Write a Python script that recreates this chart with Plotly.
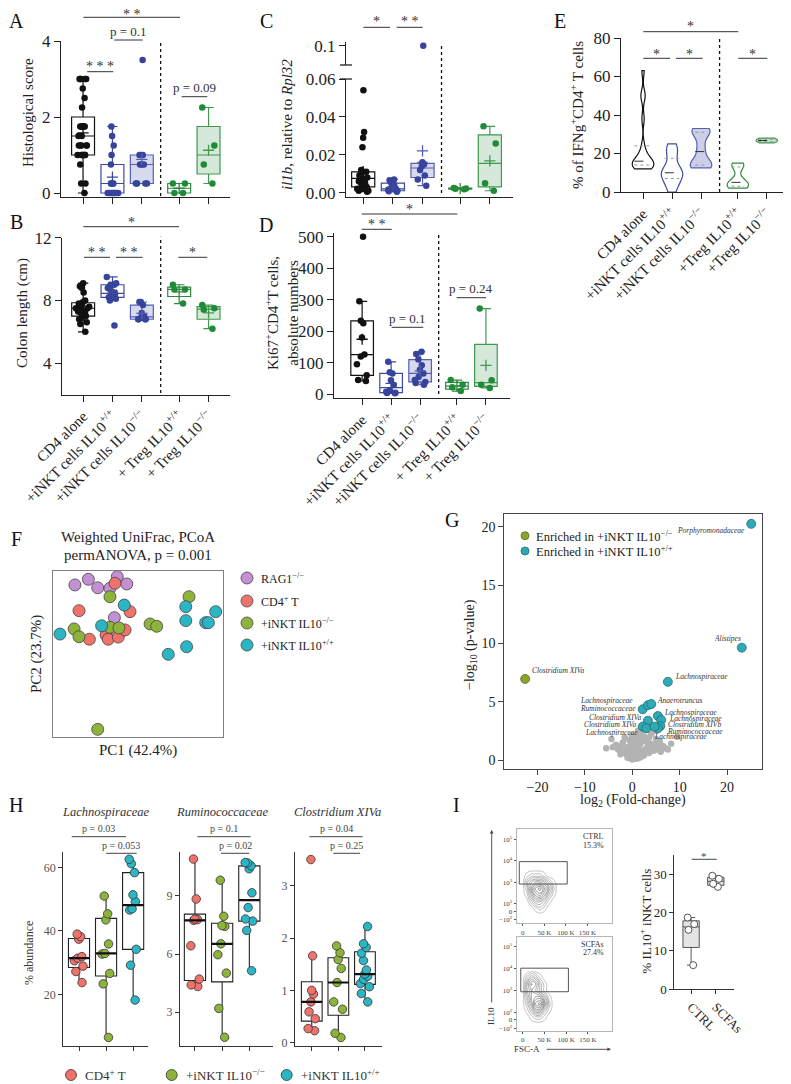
import numpy as np
import plotly.graph_objects as go

# the page body adds an 8 px margin, so the figure is sized to the visible area and
# all layout positions below are expressed in page pixels
OFF = 8
WF, HF = 783, 1076
SERIF = "Liberation Serif"


def fx(p):
    return (p - OFF) / WF


def fy(p):
    return 1 - (p - OFF) / HF


# ---------------------------------------------------------------- data
groups_B = ["CD4 alone", "+iNKT cells IL10<sup>+/+</sup>", "+iNKT cells IL10<sup>−/−</sup>",
            "+ Treg IL10<sup>+/+</sup>", "+ Treg IL10<sup>−/−</sup>"]
groups_E = ["CD4 alone", "+iNKT cells IL10<sup>+/+</sup>", "+iNKT cells IL10<sup>−/−</sup>",
            "+Treg IL10<sup>+/+</sup>", "+Treg IL10<sup>−/−</sup>"]
group_pos = [0, 1, 2, 3.27, 4.27]
divider_pos = 2.64

# A  histological score
hist_cd4 = [3, 3, 3, 3, 3, 2.75, 2.5, 2.25, 1.75, 1.75, 1.75, 1.75, 1.75, 1.75, 1.75, 1.5, 1.5,
            1.25, 1.25, 1.25, 1.25, 1.25, 1, 1, 1, 1, 1, 1, 1, 0.75, 0.25, 0.25, 0]
hist_inkt_wt = [1.75, 1.5, 1.25, 1.0, 0.75, 0.25, 0.25, 0.25, 0.25, 0.25, 0, 0, 0, 0, 0, 0, 0, 0]
hist_inkt_ko = [3.5, 1, 1, 1, 0.75, 0.75, 0.75, 0.25, 0.25, 0.25, 0.25]
hist_treg_wt = [0.25, 0.25, 0, 0]
hist_treg_ko = [2.25, 1.25, 0.75, 0.25]

# B  colon length (cm)
colon_cd4 = [9.1, 8.9, 8.8, 8.5, 8.0, 7.9, 7.8, 7.8, 7.7, 7.6, 7.6, 7.5, 7.5, 7.4, 7.3, 7.3, 7.2,
             7.1, 7.0, 7.0, 6.9, 6.8, 6.6, 6.5, 6.0]
colon_inkt_wt = [9.5, 9.1, 9.0, 9.0, 8.8, 8.7, 8.5, 8.4, 8.4, 8.3, 8.2, 8.1, 8.0, 6.4]
colon_inkt_ko = [7.9, 7.9, 7.7, 7.2, 7.0, 6.9, 6.8, 6.8, 6.8, 6.8]
colon_treg_wt = [9.0, 8.7, 8.7, 7.8]
colon_treg_ko = [7.7, 7.5, 7.4, 6.2]

# C  il1b relative to Rpl32
il1b_cd4 = [0.054, 0.032, 0.029, 0.024, 0.012, 0.011, 0.011, 0.010, 0.009, 0.008, 0.008, 0.007,
            0.006, 0.005, 0.005, 0.004, 0.003, 0.002, 0.002, 0.001, 0.001, 0.0005]
il1b_inkt_wt = [0.007, 0.0065, 0.005, 0.004, 0.003, 0.002, 0.002, 0.0015, 0.001, 0.0008, 0.0005]
il1b_inkt_ko = [0.1, 0.016, 0.015, 0.014, 0.012, 0.009, 0.007, 0.0037]
il1b_treg_wt = [0.0025, 0.002, 0.0018, 0.0022]
il1b_treg_ko = [0.035, 0.026, 0.005, 0.001]

# D  Ki67+ CD4+ T cells
ki67_cd4 = [500, 295, 233, 225, 180, 126, 120, 95, 60, 45, 42]
ki67_inkt_wt = [103, 70, 66, 44, 29, 13, 8, 5, 4, 3]
ki67_inkt_ko = [135, 128, 110, 92, 78, 66, 55, 45, 39, 36, 30]
ki67_treg_wt = [45, 30, 22, 10]
ki67_treg_ko = [272, 44, 30, 20]

# E  % IFNg+ CD4+ T cells
ifng_cd4 = [12, 12.5, 13, 13.5, 14, 14, 15, 15, 16, 17, 18, 20, 24, 38, 49, 51, 63]
ifng_inkt_wt = [0, 2, 5, 6, 8, 9, 10, 10, 11, 12, 15, 20, 21, 23, 25]
ifng_inkt_ko = [12.5, 13, 13.5, 14, 15, 17, 21, 24, 29, 31, 32, 32.5, 33]
ifng_treg_wt = [2, 2.5, 3, 4, 5, 6, 13, 14, 15]
ifng_treg_ko = [25.5, 26, 26.5, 27, 27.5, 28]

# F  PCoA (axes in relative units)
pcoa_groups = ["RAG1<sup>−/−</sup>", "CD4<sup>+</sup> T", "+iNKT IL10<sup>−/−</sup>", "+iNKT IL10<sup>+/+</sup>"]
pc1_rag = [12.9, 20.8, 26.3, 33.5, 37.8, 43.4, 36.1]
pc2_rag = [91.6, 95.0, 89.9, 89.6, 96.6, 92.2, 71.9]
pc1_cd4 = [36.5, 15.3, 45.3, 21.4, 31.9, 31.2, 32.5, 38.4, 42.4]
pc2_cd4 = [92.6, 76.1, 75.5, 58.9, 64.5, 61.4, 58.9, 60.2, 64.5]
pc1_ko = [33.5, 12.4, 15.3, 33.5, 38.8, 57.1, 61.0, 80.0, 26.3]
pc2_ko = [84.5, 65.1, 60.4, 66.1, 65.7, 68.1, 66.7, 84.5, 4.6]
pc1_wt = [4.1, 28.6, 41.9, 78.1, 78.1, 89.8, 91.4, 95.7, 67.8, 78.6]
pc2_wt = [62.0, 67.0, 79.5, 78.5, 70.1, 68.9, 68.9, 75.5, 49.8, 54.4]

# G  volcano
volc_grey_x = [0, 0.3, -0.3, 0.6, -0.6, 0.9, -0.9, 1.2, 1.5, -1.2, 1.8, 2.1, -1.5, 2.4, 2.7, 3.0, -1.8,
               -2.1, 3.3, 3.6, 0.2, 0.5, 0.8, 1.1, 1.4, 1.7, 2.0, 2.3, -0.2, -0.5, -0.8, -1.1, 0.4,
               0.7, 1.0, 1.3, 1.6, 1.9, 0.1, -0.3, 0.3, 0.6, 2.6, 2.9, 3.2, 3.5, 3.9, 4.2, 4.5, 4.8,
               5.2, 5.6, 6.0, 6.5, 7.0, 7.5, 8.2, 9.5, 4.0, 4.6, 3.0, 2.2, -2.5, -3.0, -3.5, -4.1,
               -4.4, -5.5, -1.6, -2.0, -0.6, -1.0, 1.0, 2.0, 2.5, -2.5, 0.0, 1.5, 3.5, -0.1, 1.2,
               5.0, 5.8]
volc_grey_y = [0.05, 0.1, 0.1, 0.2, 0.25, 0.3, 0.35, 0.4, 0.5, 0.5, 0.6, 0.7, 0.6, 0.8, 0.9, 1.0, 0.8,
               0.9, 1.1, 1.2, 0.4, 0.6, 0.8, 1.0, 1.2, 1.4, 1.6, 1.8, 0.5, 0.7, 0.9, 1.1, 1.0, 1.3,
               1.6, 1.9, 2.2, 2.4, 1.2, 1.4, 1.7, 2.0, 2.0, 1.7, 1.5, 1.9, 1.4, 1.0, 0.8, 1.3, 0.9,
               1.1, 0.7, 1.2, 1.0, 0.9, 1.4, 2.0, 2.2, 2.5, 2.6, 2.9, 1.2, 0.9, 1.3, 1.1, 1.8, 1.0,
               1.9, 1.5, 1.7, 0.2, 0.1, 0.3, 0.4, 0.5, 0.8, 0.2, 0.6, 2.1, 2.5, 1.8, 1.6]
volc_wt_x = [25.1, 23.1, 7.5, 2.2, 3.3, 4.0, 3.3, 2.2, 2.95, 5.4, 6.1, 5.9, 5.4, 4.7]
volc_wt_y = [20.24, 9.63, 6.7, 4.35, 4.7, 4.8, 3.37, 2.86, 2.72, 3.77, 3.43, 2.92, 2.72, 2.86]
volc_wt_taxa = ["Porphyromonadaceae", "Alistipes", "Lachnospiraceae", "Ruminococcaceae",
                "Lachnospiraceae", "Anaerotruncus", "Clostridium XIVa", "Clostridium XIVa",
                "Lachnospiraceae", "Lachnospiraceae", "Lachnospiraceae", "Clostridium XIVb",
                "Ruminococcaceae", "Lachnospiraceae"]
volc_ko_x = [-22.6]
volc_ko_y = [6.95]
volc_ko_taxa = ["Clostridium XIVa"]

# H  % abundance
h_titles = ["Lachnospiraceae", "Ruminococcaceae", "Clostridium XIVa"]
lach_cd4 = [39.0, 38.2, 37.4, 31.9, 31.4, 30.6, 28.9, 27.2, 23.7]
lach_ko = [51.0, 45.4, 43.5, 35.9, 32.9, 32.7, 26.6, 23.3, 6.4]
lach_wt = [62.6, 61.2, 58.4, 51.4, 49.3, 47.0, 46.6, 34.2, 29.2, 18.2]
rum_cd4 = [10.9, 8.84, 7.8, 7.78, 7.74, 6.43, 4.71, 4.41, 4.33]
rum_ko = [9.81, 7.95, 7.47, 7.43, 6.53, 5.97, 5.02, 3.2, 1.71]
rum_wt = [10.72, 10.7, 10.55, 10.4, 9.16, 8.4, 7.81, 7.7, 7.22, 5.14]
clos_cd4 = [3.5, 1.66, 1.0, 0.93, 0.78, 0.59, 0.46, 0.27, 0.23]
clos_ko = [1.85, 1.72, 1.59, 1.42, 1.15, 0.78, 0.64, 0.18, 0.1]
clos_wt = [2.22, 1.89, 1.82, 1.71, 1.57, 1.39, 1.31, 1.27, 1.21, 1.13, 1.07, 0.94, 0.78]
h_legend = ["CD4<sup>+</sup> T", "+iNKT IL10<sup>−/−</sup>", "+iNKT IL10<sup>+/+</sup>"]

# I  flow cytometry (contour density) and % IL10+ iNKT
flow_fsc = [0, 10000, 20000, 30000, 40000, 50000, 60000, 70000, 80000]
flow_il10 = [1.5, 1.8, 2.1, 2.4, 2.7, 3.0, 3.3, 3.6, 3.9]
flow_ctrl_z = [
    [0, 0, 0, 0, 0, 0, 0, 0, 0],
    [0, 0, 0, 1, 2, 1, 0, 0, 0],
    [0, 0, 2, 4, 4, 3, 1, 0, 0],
    [0, 1, 4, 7, 8, 6, 3, 1, 0],
    [0, 2, 6, 9, 10, 8, 5, 2, 0],
    [0, 3, 5, 6, 6, 5, 3, 1, 0],
    [0, 1, 2, 2, 2, 1, 0, 0, 0],
    [0, 0, 0, 0, 0, 0, 0, 0, 0],
    [0, 0, 0, 0, 0, 0, 0, 0, 0],
]
flow_scfa_z = [
    [0, 0, 0, 0, 0, 0, 0, 0, 0],
    [0, 0, 1, 2, 2, 1, 0, 0, 0],
    [0, 1, 3, 6, 6, 3, 1, 0, 0],
    [0, 2, 5, 9, 10, 6, 2, 0, 0],
    [0, 3, 6, 7, 7, 4, 1, 0, 0],
    [0, 4, 6, 5, 3, 1, 0, 0, 0],
    [0, 4, 7, 6, 3, 1, 0, 0, 0],
    [0, 2, 4, 3, 1, 0, 0, 0, 0],
    [0, 0, 1, 0, 0, 0, 0, 0, 0],
]
flow_gate_ctrl = [-8000, 103000, 2.92, 3.96]
flow_gate_scfa = [-4600, 105000, 2.95, 4.02]
flow_tickvals_ctrl = [1.26, 1.64, 2, 3, 4, 5]
flow_tickvals_scfa = [1.29, 1.67, 2, 3, 4, 5]
flow_ticktext = ["−10<sup>2</sup>", "0", "10<sup>2</sup>", "10<sup>3</sup>", "10<sup>4</sup>", "10<sup>5</sup>"]
il10_labels = ["CTRL", "SCFAs"]
il10_ctrl = [18.7, 17.0, 15.5, 6.3]
il10_scfa = [29.6, 28.8, 27.5, 26.7]

# ---------------------------------------------------------------- styles
LINE = ['#111111', '#3d4aa0', '#5561b0', '#2e8b3e', '#3f9a4e']
FILL = ['white', 'white', 'rgba(95,105,180,0.25)', 'white', 'rgba(70,150,80,0.22)']
PT = ['#111111', '#37449c', '#37449c', '#1f8a37', '#1f8a37']
VFILL = ['white', 'white', 'rgba(95,105,180,0.32)', 'white', 'rgba(70,150,80,0.3)']
VBW = [3, 3.5, 3, 2.5, 1]
C_RAG, C_CD4, C_KO, C_WT = '#c490d4', '#f0736b', '#8db43a', '#2bb6c5'

fig = go.Figure()
shapes, annos = [], []


def ref(n, a):
    return a if n == 1 else f"{a}{n}"


def gp_box(n, i, vals, yn=None):
    yn = n if yn is None else yn
    fig.add_trace(go.Box(
        x=[group_pos[i]] * len(vals), y=vals, xaxis=ref(n, 'x'), yaxis=ref(yn, 'y'),
        boxpoints='all', jitter=0.65, pointpos=0, width=0.78, whiskerwidth=0.45,
        quartilemethod='exclusive', fillcolor=FILL[i],
        line=dict(color=LINE[i], width=1.2),
        marker=dict(color=PT[i], size=6.5, line=dict(width=0)),
        showlegend=False, hoverinfo='skip'))


def gp_mean(n, i, vals):
    fig.add_trace(go.Scatter(
        x=[group_pos[i]], y=[float(np.mean(vals))], xaxis=ref(n, 'x'), yaxis=ref(n, 'y'),
        mode='markers', marker=dict(symbol='cross-thin', size=8, line=dict(color=LINE[i], width=1.3)),
        showlegend=False, hoverinfo='skip'))


panelA = [hist_cd4, hist_inkt_wt, hist_inkt_ko, hist_treg_wt, hist_treg_ko]
panelB = [colon_cd4, colon_inkt_wt, colon_inkt_ko, colon_treg_wt, colon_treg_ko]
panelC = [il1b_cd4, il1b_inkt_wt, il1b_inkt_ko, il1b_treg_wt, il1b_treg_ko]
panelD = [ki67_cd4, ki67_inkt_wt, ki67_inkt_ko, ki67_treg_wt, ki67_treg_ko]
panelE = [ifng_cd4, ifng_inkt_wt, ifng_inkt_ko, ifng_treg_wt, ifng_treg_ko]

for n, pdata in [(1, panelA), (2, panelB), (3, panelC), (5, panelD)]:
    for i, v in enumerate(pdata):
        gp_box(n, i, v)
        gp_mean(n, i, v)
# upper segment of broken axis in C
gp_box(4, 2, il1b_inkt_ko)

# E violins
med_hw = [0.3, 0.25, 0.2, 0.22, 0.3]
for i, v in enumerate(panelE):
    fig.add_trace(go.Violin(
        x=[group_pos[i]] * len(v), y=v, xaxis='x6', yaxis='y6', width=0.74, scalemode='width',
        spanmode='hard', bandwidth=VBW[i], points=False, fillcolor=VFILL[i],
        line=dict(color=LINE[i], width=1.2), showlegend=False, hoverinfo='skip'))
    q1, md, q3 = np.percentile(v, [25, 50, 75])
    for val, dash, col in [(md, 'dash', '#333'), (q1, 'dot', '#999'), (q3, 'dot', '#999')]:
        fig.add_trace(go.Scatter(
            x=[group_pos[i] - med_hw[i], group_pos[i] + med_hw[i]], y=[val, val],
            xaxis='x6', yaxis='y6', mode='lines', line=dict(color=col, width=1, dash=dash),
            showlegend=False, hoverinfo='skip'))

# F PCoA
for xs, ys, col in [(pc1_rag, pc2_rag, C_RAG), (pc1_cd4, pc2_cd4, C_CD4),
                    (pc1_ko, pc2_ko, C_KO), (pc1_wt, pc2_wt, C_WT)]:
    fig.add_trace(go.Scatter(x=xs, y=ys, xaxis='x7', yaxis='y7', mode='markers',
                             marker=dict(color=col, size=12, line=dict(color='#444', width=0.8)),
                             showlegend=False, hoverinfo='skip', cliponaxis=False))

# G volcano
fig.add_trace(go.Scatter(x=volc_grey_x, y=volc_grey_y, xaxis='x8', yaxis='y8', mode='markers',
                         marker=dict(color='#b3b3b3', size=6.5), showlegend=False, hoverinfo='skip'))
fig.add_trace(go.Scatter(x=volc_ko_x, y=volc_ko_y, xaxis='x8', yaxis='y8', mode='markers',
                         marker=dict(color='#8aa52c', size=9, line=dict(color='#5a6e1c', width=0.8)),
                         showlegend=False, hoverinfo='skip'))
fig.add_trace(go.Scatter(x=volc_wt_x, y=volc_wt_y, xaxis='x8', yaxis='y8', mode='markers',
                         marker=dict(color='#2fa9b4', size=9, line=dict(color='#1d6d75', width=0.8)),
                         showlegend=False, hoverinfo='skip'))
wt_label_style = [('right', -4, -7), ('center', -14, 9), ('left', 5, 5), ('right', -5, 1),
                  ('right', -13, 5), ('left', 4, 4), ('right', -4, 3), ('right', -4, 2),
                  ('right', -6, -4), ('left', 4, 4), ('left', 6, 2), ('left', 6, 1),
                  ('left', 7, -3), ('left', -3, -10)]
for k, name in enumerate(volc_wt_taxa):
    xa, xs, ys = wt_label_style[k]
    annos.append(dict(x=volc_wt_x[k], y=volc_wt_y[k], xref='x8', yref='y8', text=f"<i>{name}</i>",
                      showarrow=False, xanchor=xa, xshift=xs, yshift=ys,
                      font=dict(family=SERIF, size=7.5, color='#333')))
annos.append(dict(x=volc_ko_x[0], y=volc_ko_y[0], xref='x8', yref='y8', text=f"<i>{volc_ko_taxa[0]}</i>",
                  showarrow=False, xanchor='left', xshift=5, yshift=8,
                  font=dict(family=SERIF, size=7.5, color='#333')))

# H boxes
h_data = [[lach_cd4, lach_ko, lach_wt], [rum_cd4, rum_ko, rum_wt], [clos_cd4, clos_ko, clos_wt]]
h_cols = [C_CD4, C_KO, C_WT]
for k, trio in enumerate(h_data):
    n = 9 + k
    for j, v in enumerate(trio):
        fig.add_trace(go.Box(
            x=[j] * len(v), y=v, xaxis=f'x{n}', yaxis=f'y{n}', boxpoints='all', jitter=0.55,
            pointpos=0, width=0.78, whiskerwidth=0, quartilemethod='linear', fillcolor='white',
            line=dict(color='#222', width=1.1),
            marker=dict(color=h_cols[j], size=8.5, line=dict(color='#333', width=0.8)),
            showlegend=False, hoverinfo='skip'))
        md = float(np.percentile(v, 50))
        fig.add_trace(go.Scatter(x=[j - 0.39, j + 0.39], y=[md, md], xaxis=f'x{n}', yaxis=f'y{n}',
                                 mode='lines', line=dict(color='#111', width=2.2),
                                 showlegend=False, hoverinfo='skip'))

# I flow contours
for n, z in [(12, flow_ctrl_z), (13, flow_scfa_z)]:
    fig.add_trace(go.Contour(
        x=flow_fsc, y=flow_il10, z=z, xaxis=f'x{n}', yaxis=f'y{n}', showscale=False,
        contours=dict(coloring='lines', start=0.5, end=9.8, size=0.9),
        colorscale=[[0, '#9a9a9a'], [1, '#4a4a4a']], line=dict(width=0.6, smoothing=1.3),
        hoverinfo='skip'))
for n, g in [(12, flow_gate_ctrl), (13, flow_gate_scfa)]:
    shapes.append(dict(type='rect', xref=f'x{n}', yref=f'y{n}', x0=g[0], x1=g[1], y0=g[2], y1=g[3],
                       line=dict(color='#555', width=1)))

# I box
for j, v in enumerate([il10_ctrl, il10_scfa]):
    fig.add_trace(go.Box(
        x=[j] * len(v), y=v, xaxis='x14', yaxis='y14', boxpoints='all', jitter=0.5, pointpos=0,
        width=0.66, whiskerwidth=0.5, quartilemethod='exclusive', fillcolor='#e4e4e4',
        line=dict(color='#555', width=1),
        marker=dict(color='white', size=7, line=dict(color='#555', width=1)),
        showlegend=False, hoverinfo='skip'))

# ---------------------------------------------------------------- axes
AX = dict(showgrid=False, zeroline=False, showline=True, linecolor='#222', linewidth=1.3,
          ticks='outside', ticklen=6, tickwidth=1.3, tickcolor='#222', automargin=False,
          tickfont=dict(family=SERIF, size=17, color='#222'))
lay = {}


def xax(n, d0, d1, rng, anchor, **kw):
    a = dict(AX)
    a.update(domain=[fx(d0), fx(d1)], range=rng, anchor=anchor)
    a.update(kw)
    lay['xaxis' if n == 1 else f'xaxis{n}'] = a


def yax(n, top, bot, rng, anchor, **kw):
    a = dict(AX)
    a.update(domain=[fy(bot), fy(top)], range=rng, anchor=anchor)
    a.update(kw)
    lay['yaxis' if n == 1 else f'yaxis{n}'] = a


catfont = dict(family=SERIF, size=15, color='#222')
xax(1, 61, 230, [-0.75, 5.0], 'y', tickvals=group_pos, showticklabels=False)
yax(1, 41, 197, [-0.105, 4], 'x', tickvals=[0, 2, 4])
xax(2, 62, 230, [-0.72, 5.0], 'y2', tickvals=group_pos, ticktext=groups_B, tickangle=-45, tickfont=catfont)
yax(2, 237.7, 394.5, [2, 12], 'x2', tickvals=[4, 8, 12])
xax(3, 346, 513, [-0.58, 5.05], 'y3', tickvals=group_pos, showticklabels=False)
xax(4, 346, 513, [-0.58, 5.05], 'y4', visible=False)
yax(3, 79, 197, [-0.0023, 0.06], 'x3', tickvals=[0, 0.02, 0.04, 0.06],
    ticktext=['0.00', '0.02', '0.04', '0.06'])
yax(4, 42, 65, [0.09, 0.1019], 'x4', tickvals=[0.1], ticktext=['0.1'])
xax(5, 334, 510, [-0.97, 5.1], 'y5', tickvals=group_pos, ticktext=groups_B, tickangle=-45, tickfont=catfont)
yax(5, 233, 398, [-12, 512], 'x5', tickvals=[0, 100, 200, 300, 400, 500])
xax(6, 621, 788, [-0.76, 5.0], 'y6', tickvals=group_pos, ticktext=groups_E, tickangle=-45, tickfont=catfont)
yax(6, 38, 192, [0, 80], 'x6', tickvals=[0, 20, 40, 60, 80])

xax(7, 53, 223, [0, 100], 'y7', mirror=True, ticks='', showticklabels=False, linecolor='#808080', linewidth=1.2)
yax(7, 571, 737, [0, 100], 'x7', mirror=True, ticks='', showticklabels=False, linecolor='#808080', linewidth=1.2)

gfont = dict(family=SERIF, size=14, color='#222')
xax(8, 504.3, 761.7, [-27, 27.3], 'y8', tickvals=[-20, -10, 0, 10, 20],
    ticktext=['−20', '−10', '0', '10', '20'], mirror=True, linecolor='#444', linewidth=1.2,
    tickcolor='#444', ticklen=5, tickwidth=1, tickfont=gfont)
yax(8, 514.3, 769, [-0.77, 21.06], 'x8', tickvals=[0, 5, 10, 15, 20], mirror=True, linecolor='#444',
    linewidth=1.2, tickcolor='#444', ticklen=5, tickwidth=1, tickfont=gfont)

hfont = dict(family=SERIF, size=12, color='#555')
hx = [(63.3, 148.3, [-0.58, 2.56]), (180, 273, [-0.55, 2.87]), (295, 381.7, [-0.63, 2.63])]
hy = [([3.7, 65], [20, 40, 60]), ([1.26, 11.28], [3, 6, 9]), ([-0.063, 3.65], [0, 1, 2, 3])]
for k in range(3):
    n = 9 + k
    xax(n, hx[k][0], hx[k][1], hx[k][2], f'y{n}', tickvals=[0, 1, 2], showticklabels=False,
        linecolor='#333', linewidth=1.2, tickcolor='#333', ticklen=4, tickwidth=1)
    yax(n, 851.7, 1046, hy[k][0], f'x{n}', tickvals=hy[k][1], linecolor='#333', linewidth=1.2,
        tickcolor='#333', ticklen=4, tickwidth=1, tickfont=hfont)

ffont = dict(family=SERIF, size=7, color='#444')
for n, top, bot, x1, yr, tv in [(12, 829.3, 923.3, 611.7, [1.1, 5.46], flow_tickvals_ctrl),
                                (13, 936.7, 1030.7, 612.3, [1.18, 5.45], flow_tickvals_scfa)]:
    xax(n, 516.7, x1, [-14000, 206000], f'y{n}', tickvals=[0, 50000, 100000, 150000],
        ticktext=['0', '50 K', '100 K', '150 K'], mirror=True, linecolor='#b5b5b5', linewidth=1,
        ticklen=2, tickwidth=0.8, tickcolor='#555', tickfont=ffont)
    yax(n, top, bot, yr, f'x{n}', tickvals=tv, ticktext=flow_ticktext, mirror=True,
        linecolor='#b5b5b5', linewidth=1, ticklen=2, tickwidth=0.8, tickcolor='#555', tickfont=ffont)

ifont = dict(family=SERIF, size=13, color='#222')
xax(14, 674.3, 734.3, [-0.68, 1.75], 'y14', tickvals=[0, 1], ticktext=il10_labels, tickangle=45,
    tickfont=ifont, linecolor='#333', linewidth=1.1, tickcolor='#333', ticklen=4, tickwidth=1)
yax(14, 855, 989.3, [0, 35], 'x14', tickvals=[0, 10, 20, 30], tickfont=dict(family=SERIF, size=13, color='#222'),
    linecolor='#333', linewidth=1.1, tickcolor='#333', ticklen=4, tickwidth=1)

# ---------------------------------------------------------------- decorations


def txt(x, y, text, size, color='#222', xanchor='center', angle=0, italic=False):
    if italic:
        text = f"<i>{text}</i>"
    annos.append(dict(x=fx(x), y=fy(y), xref='paper', yref='paper', text=text, showarrow=False,
                      xanchor=xanchor, yanchor='middle', textangle=angle,
                      font=dict(family=SERIF, size=size, color=color)))


def sig(x0, x1, y, label, ty, size=11, color='#333'):
    shapes.append(dict(type='line', xref='paper', yref='paper', x0=fx(x0), x1=fx(x1), y0=fy(y), y1=fy(y),
                       line=dict(color=color, width=1)))
    if '*' in label:
        txt((x0 + x1) / 2, ty + 3, label, size + 1, color)
    else:
        txt((x0 + x1) / 2, ty, label, size, color)


# significance bars
for s in [(83.3, 180, 17.3, '* *', 11.5), (114.3, 142.7, 40, 'p = 0.1', 31.7),
          (87.3, 113.3, 71.7, '* * *', 63.3), (181.7, 207.3, 96.7, 'p = 0.09', 87.7),
          (83.3, 179, 226.7, '*', 219.3), (84, 110, 257.3, '* *', 249.3),
          (116, 142.7, 257.3, '* *', 249.3), (178.3, 207.3, 257.3, '*', 249.3),
          (363.3, 390, 27.3, '*', 19), (396.7, 422.7, 27.3, '* *', 19),
          (361.7, 457.3, 214, '*', 206), (361.7, 391.7, 229.3, '* *', 221.7),
          (391.7, 423.3, 327.3, 'p = 0.1', 318.3), (456.7, 486, 297.7, 'p = 0.24', 288.3),
          (643.3, 738.3, 31.7, '*', 24), (643.3, 670, 58.3, '*', 51.7),
          (676, 702.7, 58.3, '*', 51.7), (738.3, 767.3, 58.3, '*', 51.7)]:
    sig(*s, size=13)
for s in [(71.7, 126, 836.7, 'p = 0.03', 828.3), (106, 136.7, 853.3, 'p = 0.053', 845),
          (197.3, 250.7, 836.7, 'p = 0.1', 828.3), (221, 249.3, 853.3, 'p = 0.02', 845),
          (309.3, 362.7, 836.7, 'p = 0.04', 828.3), (333.3, 360, 853.3, 'p = 0.25', 845)]:
    sig(*s, size=10, color='#444')
sig(691.7, 716.7, 859.3, '*', 853, size=10, color='#444')

# dividers
for n, top, bot in [(1, 40, 196), (2, 236.7, 393), (3, 45, 193), (5, 233, 394), (6, 38, 192)]:
    shapes.append(dict(type='line', xref=ref(n, 'x'), yref='paper', x0=divider_pos, x1=divider_pos,
                       y0=fy(bot), y1=fy(top), line=dict(color='#111', width=1.3, dash='dot')))
# axis break marks in C
for yb in [65, 79]:
    shapes.append(dict(type='line', xref='paper', yref='paper', x0=fx(340), x1=fx(352), y0=fy(yb), y1=fy(yb),
                       line=dict(color='#222', width=1.3)))

# axis titles
txt(28, 113, "Histological score", 15, angle=-90)
txt(22, 313, "Colon length (cm)", 15, angle=-90)
txt(287, 125, "<i>il1b</i>, relative to <i>Rpl32</i>", 15, angle=-90)
txt(282, 313, "Ki67<sup>+</sup>CD4<sup>+</sup>T cells,<br>absolute numbers", 15, angle=-90)
txt(577, 115, "% of IFNg<sup>+</sup>CD4<sup>+</sup> T cells", 15, angle=-90)

# panel letters
for L, x, y in [('A', 16, 21), ('B', 16, 222), ('C', 266, 21), ('D', 266, 225), ('E', 560, 21),
                ('F', 16, 539), ('G', 452, 520), ('H', 16, 805), ('I', 456, 805)]:
    txt(x, y, L, 20, '#111')

# F title, axes, legend
txt(138, 537, "Weighted UniFrac, PCoA", 15)
txt(138, 555, "permANOVA, p = 0.001", 15)
txt(138, 750, "PC1 (42.4%)", 15)
txt(36, 654, "PC2 (23.7%)", 15, angle=-90)
for k, (lab, col) in enumerate(zip(pcoa_groups, [C_RAG, C_CD4, C_KO, C_WT])):
    cy = [578, 601, 623, 645][k]
    shapes.append(dict(type='circle', xref='paper', yref='paper', x0=fx(241), x1=fx(253),
                       y0=fy(cy + 6), y1=fy(cy - 6), fillcolor=col, line=dict(color='#444', width=0.8)))
    txt(259, cy, lab, 12, xanchor='left')

# G titles and legend
txt(632.7, 800, "log<sub>2</sub> (Fold-change)", 14)
txt(470, 645, "−log<sub>10</sub> (p-value)", 14, angle=-90)
for cy, col, lc, lab in [(535.7, '#8aa52c', '#5a6e1c', "Enriched in +iNKT IL10<sup>−/−</sup>"),
                         (551, '#2fa9b4', '#1d6d75', "Enriched in +iNKT IL10<sup>+/+</sup>")]:
    shapes.append(dict(type='circle', xref='paper', yref='paper', x0=fx(521), x1=fx(529),
                       y0=fy(cy + 4), y1=fy(cy - 4), fillcolor=col, line=dict(color=lc, width=0.8)))
    txt(534, cy, lab, 12.5, xanchor='left')

# H titles, axis and legend
for k, xc in enumerate([105.7, 222, 337.3]):
    txt(xc, 811.7, h_titles[k], 12.5, '#333', italic=True)
txt(29, 953, "% abundance", 12, '#333', angle=-90)
for cx, col, lab in zip([71, 171.7, 286.7], [C_CD4, C_KO, C_WT], h_legend):
    shapes.append(dict(type='circle', xref='paper', yref='paper', x0=fx(cx - 5.5), x1=fx(cx + 5.5),
                       y0=fy(1075 + 5.5), y1=fy(1075 - 5.5), fillcolor=col, line=dict(color='#333', width=0.8)))
    txt(cx + 12, 1075, lab, 13, '#333', xanchor='left')

# I texts
txt(605.7, 836.7, "CTRL", 8, '#333', xanchor='right')
txt(605.7, 845, "15.3%", 8, '#333', xanchor='right')
txt(605.7, 944, "SCFAs", 8, '#333', xanchor='right')
txt(605.7, 952, "27.4%", 8, '#333', xanchor='right')
txt(491, 1016, "IL10", 9, '#333', angle=-90)
txt(527, 1049.3, "FSC-A", 9, '#333')
txt(645, 921.7, "% IL10<sup>+</sup> iNKT cells", 13, angle=-90)
annos.append(dict(x=fx(491.7), y=fy(830), ax=0, ay=174, xref='paper', yref='paper',
                  text='', showarrow=True, arrowhead=2, arrowsize=0.8,
                  arrowwidth=0.9, arrowcolor='#444'))
annos.append(dict(x=fx(611), y=fy(1049.3), ax=-66, ay=0, xref='paper', yref='paper',
                  text='', showarrow=True, arrowhead=2, arrowsize=0.8,
                  arrowwidth=0.9, arrowcolor='#444'))

fig.update_layout(width=WF, height=HF, margin=dict(l=0, r=0, t=0, b=0, autoexpand=False),
                  paper_bgcolor='white', plot_bgcolor='rgba(0,0,0,0)', showlegend=False,
                  shapes=shapes, annotations=annos,
                  font=dict(family=SERIF), boxmode='overlay', violinmode='overlay', **lay)
fig.write_html("out.html")
